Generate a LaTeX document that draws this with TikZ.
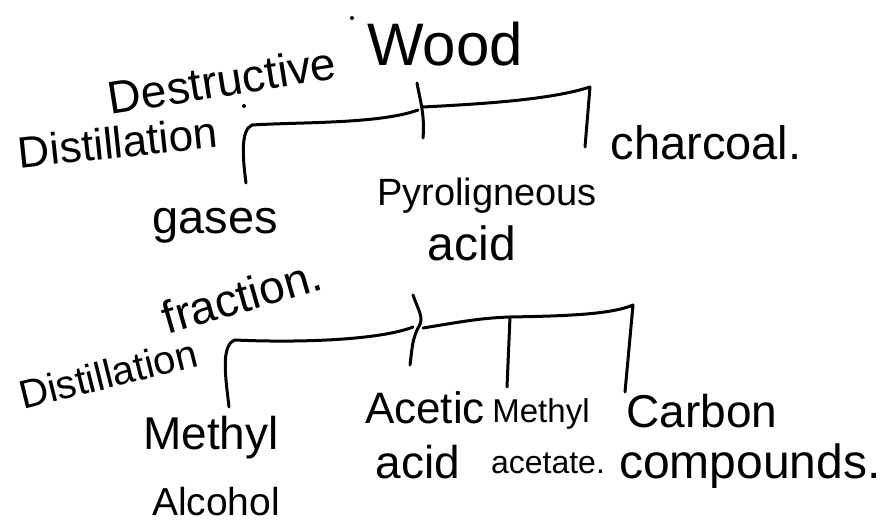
\documentclass[tikz,border=0pt]{standalone}
\usepackage{fontspec}
\setmainfont{Liberation Sans}
\newcommand\hsz[1]{\fontsize{#1}{#1}\selectfont}
\begin{document}
\begin{tikzpicture}[x=1pt,y=-1pt,
  ink/.style={line width=3pt,line cap=round,line join=round,black},
  lbl/.style={inner sep=0pt,text=black}]
\useasboundingbox[fill=white] (0,0) rectangle (894,524);
% labels
\node[lbl,font=\hsz{60}] (wood) at (445,44) {Wood};
\node[lbl,font=\hsz{46},rotate=9] (destr) at (222,80) {Destructive};
\node[lbl,font=\hsz{44},rotate=6] (dist1) at (118,142) {Distillation};
\node[lbl,font=\hsz{47}] (charcoal) at (706,143) {charcoal.};
\node[lbl,font=\hsz{47}] (gases) at (215,226) {gases};
\node[lbl,font=\hsz{38}] (pyro) at (487,196) {Pyroligneous};
\node[lbl,font=\hsz{48}] (acid1) at (472,243) {acid};
\node[lbl,font=\hsz{46},rotate=16] (frac) at (242,296) {fraction.};
\node[lbl,font=\hsz{40},rotate=14] (dist2) at (108,374) {Distillation};
\node[lbl,font=\hsz{46}] (meth1) at (211,438) {Methyl};
\node[lbl,font=\hsz{39}] (alc) at (216,502) {Alcohol};
\node[lbl,font=\hsz{44}] (acetic) at (425,408) {Acetic};
\node[lbl,font=\hsz{46}] (acid2) at (418,462) {acid};
\node[lbl,font=\hsz{33}] (meth2) at (541,414) {Methyl};
\node[lbl,font=\hsz{32}] (acet) at (548,463) {acetate.};
\node[lbl,font=\hsz{46}] (carbon) at (702,411) {Carbon};
\node[lbl,font=\hsz{48}] (comp) at (750,466) {compounds.};
% stray dots
\fill (352,18) circle (2pt);
\fill (244,106) circle (2pt);
% top bracket
\coordinate (ta) at (246,183);
\coordinate (tb) at (252,125);
\coordinate (tc) at (418,110);
\coordinate (td) at (417,83);
\coordinate (te) at (423,138);
\coordinate (tf) at (423,107);
\coordinate (tg) at (590,87);
\coordinate (th) at (585,147);
\draw[ink] (ta) .. controls (243,160) and (240,130) .. (tb)
  .. controls (300,122) and (380,124) .. (tc);
\draw[ink] (td) .. controls (420,100) and (425,115) .. (te);
\draw[ink] (tf) .. controls (480,104) and (550,100) .. (tg) -- (th);
% second bracket
\coordinate (sa) at (229,407);
\coordinate (sb) at (235,340);
\coordinate (sc) at (413,327);
\coordinate (sd) at (413,295);
\coordinate (se) at (418,328);
\coordinate (sf) at (410,365);
\coordinate (sg) at (423,328);
\coordinate (sh) at (510,317);
\coordinate (si) at (633,305);
\coordinate (sj) at (625,392);
\coordinate (sk) at (507,387);
\draw[ink] (sa) .. controls (226,380) and (220,345) .. (sb)
  .. controls (300,343) and (380,340) .. (sc);
\draw[ink] (sd) .. controls (418,310) and (425,318) .. (se)
  .. controls (412,340) and (412,350) .. (sf);
\draw[ink] (sg) .. controls (460,322) and (480,318) .. (sh)
  .. controls (560,316) and (610,315) .. (si) -- (sj);
\draw[ink] (sh) -- (sk);
\end{tikzpicture}
\end{document}
